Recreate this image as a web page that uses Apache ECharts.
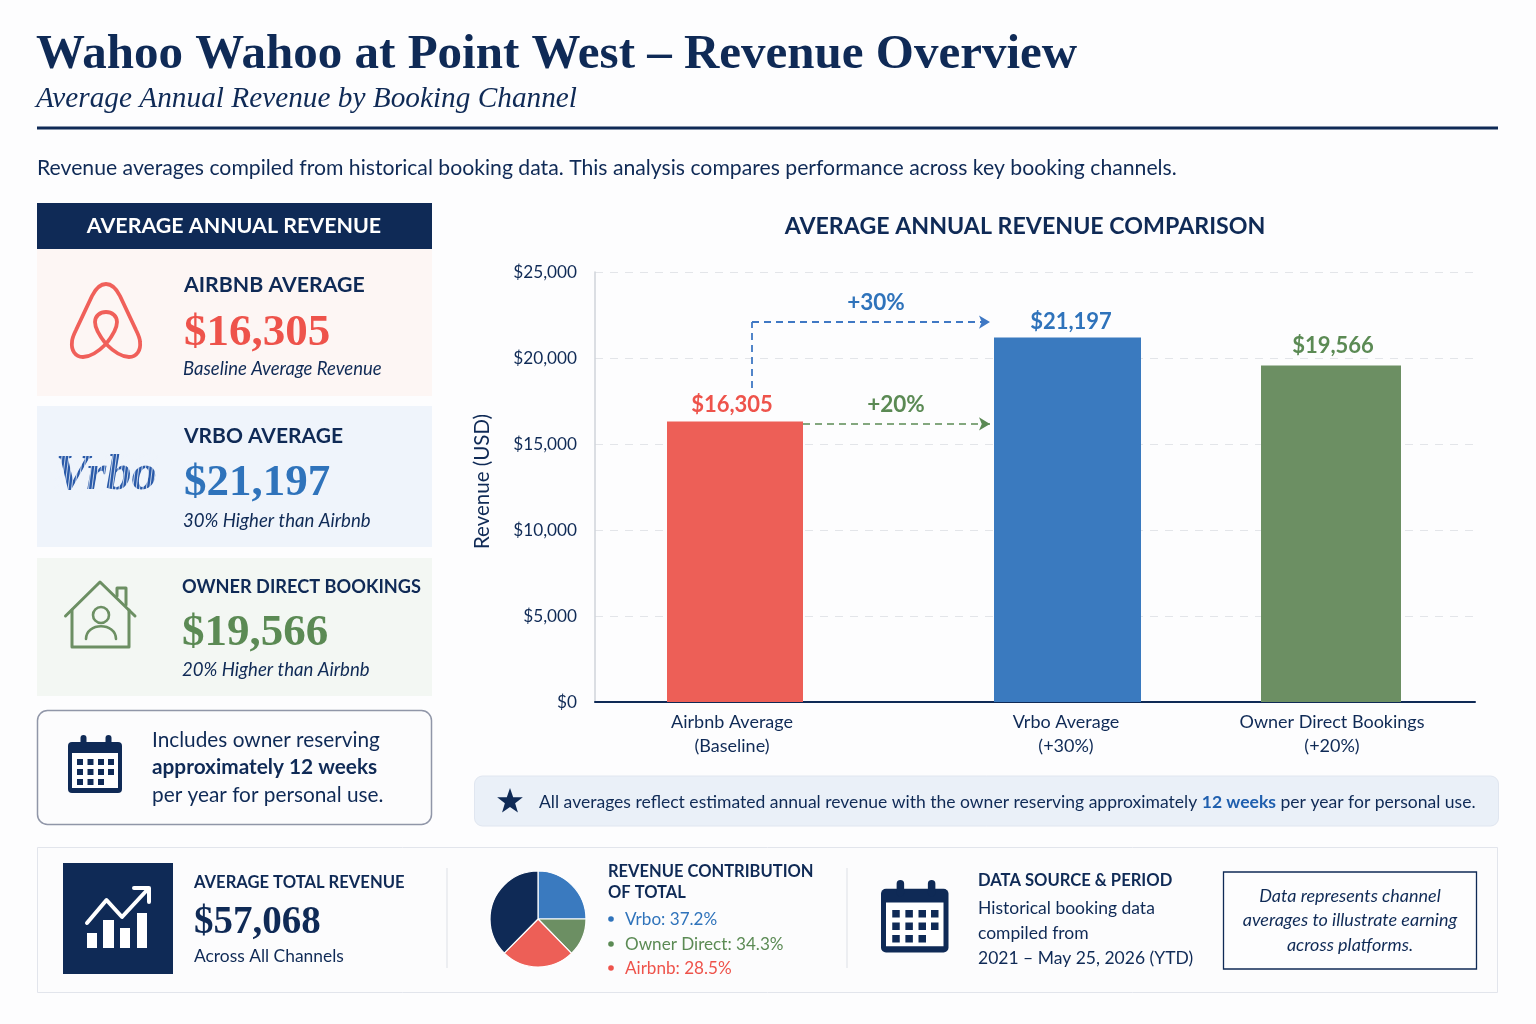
<!DOCTYPE html>
<html><head><meta charset="utf-8">
<style>html,body{margin:0;padding:0;background:#fdfdfe}#c{width:1536px;height:1024px}</style>
<script src="https://cdn.jsdelivr.net/npm/echarts@6/dist/echarts.min.js"></script>
</head><body><div id="c"></div>
<script>
const channels = ['Airbnb Average', 'Vrbo Average', 'Owner Direct Bookings'];
const channelNotes = ['(Baseline)', '(+30%)', '(+20%)'];
const revenue = [16305, 21197, 19566];
const yTicks = [0, 5000, 10000, 15000, 20000, 25000];
const pieNames = ['Vrbo', 'Owner Direct', 'Airbnb', 'Total share'];
const pieShares = [25, 12.7, 24.7, 37.6];
const contribution = ['Vrbo: 37.2%', 'Owner Direct: 34.3%', 'Airbnb: 28.5%'];

const NAVY = '#0f2a56', RED = '#ed5f57', BLUE = '#3a7abf', GREEN = '#6c8f63';
const TXT_RED = '#ee534b', TXT_BLUE = '#2f73bb', TXT_GREEN = '#5b8a54';
const SANS = 'Lato', SERIF = '"Liberation Serif"';
const barColors = [RED, BLUE, GREEN], labelColors = [TXT_RED, TXT_BLUE, TXT_GREEN];
// layout only: horizontal placement inside a 0..880 plot strip
const barCenters = [140, 472.5, 736], barWidths = [136, 147, 140], labelCenters = [137, 471, 737];
const valueLabelShift = [[-3, 2], [3.5, 3], [2, -1]];

echarts.graphic.registerShape('airbnbLogo', echarts.graphic.extendPath('M106 344C98 352 90 357 83 357C75 357 71 350 72 342C72 338 74 334 76 330L92 296C96 288 100 284 106 284C112 284 116 288 120 296L136 330C138 334 140 338 140 342C141 350 137 357 129 357C122 357 114 352 106 344C98 334 95 327 95 322C95 316 100 312 106 312C112 312 117 316 117 322C117 327 114 334 106 344Z'));
echarts.graphic.registerShape('ownerShoulders', echarts.graphic.extendPath('M86 639C86 622 116 622 116 639'));

const money = v => '$' + v.toLocaleString('en-US');
function T(x, y, text, o) {
  o = o || {};
  return { type: 'text', x, y, silent: true, z: o.z || 5, style: {
    text, fill: o.c || NAVY, align: o.a || 'left', verticalAlign: 'middle',
    font: `${o.i ? 'italic ' : ''}${o.w || 400} ${o.s || 18}px ${o.f || SANS}`, rich: o.rich } };
}
function R(x, y, w, h, fill, o) {
  o = o || {};
  return { type: 'rect', silent: true, z: o.z || 1, shape: { x, y, width: w, height: h, r: o.r || 0 },
    style: { fill, stroke: o.stroke || null, lineWidth: o.lw || 0 } };
}
function L(x1, y1, x2, y2, stroke, lw) {
  return { type: 'line', silent: true, z: 2, shape: { x1, y1, x2, y2 }, style: { stroke, lineWidth: lw || 1 } };
}
function S(type, stroke, lw) {
  return { type, silent: true, z: 3, style: { stroke, lineWidth: lw, fill: 'none', lineJoin: 'round', lineCap: 'round' } };
}
function calendar(x, y, k) {
  const ch = [
    R(0, 7, 54, 51, NAVY, { r: 4, z: 3 }),
    R(4, 18, 46, 35, '#ffffff', { z: 4 }),
    R(12.5, 0, 6, 13, NAVY, { r: 3, z: 5 }), R(37.5, 0, 6, 13, NAVY, { r: 3, z: 5 })
  ];
  const cols = [9, 19.5, 30, 40], rows = [24, 34, 44];
  rows.forEach((ry, i) => cols.forEach((cx, j) => {
    if (i === 2 && j === 3) return;
    ch.push(R(cx, ry, 6, 6, NAVY, { z: 6 }));
  }));
  return { type: 'group', x, y, scaleX: k, scaleY: k, silent: true, children: ch };
}
function vrboLogo() {
  const out = [T(55, 476, 'Vrbo', { f: SERIF, w: 700, i: true, s: 51, c: '#2a5aa9' })];
  for (let i = 0; i < 30; i++) {
    const x = 54 + i * 3.4;
    out.push(Object.assign(L(x + 5, 453, x, 493, '#eff4fb', 0.8), { z: 6 }));
  }
  return out;
}

const starPts = [];
for (let i = 0; i < 10; i++) {
  const r = i % 2 ? 5.4 : 13.5, a = -Math.PI / 2 + i * Math.PI / 5;
  starPts.push([510 + r * Math.cos(a), 801.5 + r * Math.sin(a)]);
}

const graphics = [
  T(36, 55, 'Wahoo Wahoo at Point West – Revenue Overview', { f: SERIF, w: 700, s: 49 }),
  T(36, 99, 'Average Annual Revenue by Booking Channel', { f: SERIF, i: true, s: 29.3 }),
  L(37, 128, 1498, 128, NAVY, 3),
  T(37, 168, 'Revenue averages compiled from historical booking data. This analysis compares performance across key booking channels.', { s: 21.2 }),

  R(37, 203, 395, 46, NAVY),
  T(234, 226.5, 'AVERAGE ANNUAL REVENUE', { c: '#fff', a: 'center', w: 700, s: 21.4 }),
  R(37, 249, 395, 147, '#fdf6f4'),
  R(37, 406, 395, 141, '#eff4fb'),
  R(37, 558, 395, 138, '#f3f7f3'),
  T(184, 285.5, 'AIRBNB AVERAGE', { w: 700, s: 21.3 }),
  T(184, 333.5, money(revenue[0]), { f: SERIF, w: 700, s: 45, c: TXT_RED }),
  T(183, 369.5, 'Baseline Average Revenue', { i: true, s: 18.5 }),
  T(184, 436.5, 'VRBO AVERAGE', { w: 700, s: 21 }),
  T(184, 483.5, money(revenue[1]), { f: SERIF, w: 700, s: 45, c: TXT_BLUE }),
  T(183, 520.5, '30% Higher than Airbnb', { i: true, s: 18.6 }),
  T(182, 587.5, 'OWNER DIRECT BOOKINGS', { w: 700, s: 18.2 }),
  T(182, 633, money(revenue[2]), { f: SERIF, w: 700, s: 45, c: TXT_GREEN }),
  T(182, 669.5, '20% Higher than Airbnb', { i: true, s: 18.6 }),

  S('airbnbLogo', '#f0605a', 3.8),
  ...vrboLogo(),
  Object.assign(S('polyline', GREEN, 3), { shape: { points: [[65.5, 616], [100, 582], [135, 616]] } }),
  Object.assign(S('polyline', GREEN, 3), { shape: { points: [[72, 610], [72, 647], [129, 647], [129, 610]] } }),
  Object.assign(S('polyline', GREEN, 3), { shape: { points: [[117, 596], [117, 588], [126, 588], [126, 605]] } }),
  Object.assign(S('circle', GREEN, 2.6), { shape: { cx: 101, cy: 615, r: 8 } }),
  S('ownerShoulders', GREEN, 2.6),

  R(37.5, 710.5, 394, 114, '#fcfcfd', { r: 10, stroke: '#9096a8', lw: 1.5 }),
  calendar(68, 735, 1),
  T(152, 740, 'Includes owner reserving', { s: 20.8 }),
  T(152, 767, 'approximately 12 weeks', { s: 20.8, w: 700 }),
  T(152, 795, 'per year for personal use.', { s: 20.8 }),

  T(1025, 227, 'AVERAGE ANNUAL REVENUE COMPARISON', { a: 'center', w: 700, s: 23.2 }),
  T(876, 302.5, '+30%', { a: 'center', w: 700, s: 22.5, c: TXT_BLUE }),
  T(896, 404.5, '+20%', { a: 'center', w: 700, s: 22.5, c: TXT_GREEN }),

  R(474.5, 776, 1024, 50, '#eaf0f8', { r: 8, stroke: '#e0e6f0', lw: 1 }),
  { type: 'polygon', silent: true, z: 3, shape: { points: starPts }, style: { fill: NAVY } },
  T(539, 802, '{a|All averages reflect estimated annual revenue with the owner reserving approximately }{b|12 weeks}{a| per year for personal use.}', {
    rich: { a: { font: `400 17.55px ${SANS}`, fill: NAVY }, b: { font: `700 17.55px ${SANS}`, fill: '#1f5fae' } } }),

  R(37.5, 847.5, 1460, 145, '#fcfcfd', { stroke: '#e2e5ec', lw: 1 }),
  L(447, 868, 447, 968, '#dde0e6', 1),
  L(847, 868, 847, 968, '#dde0e6', 1),
  R(63, 863, 110, 111, NAVY, { z: 2 }),
  R(87, 933, 10, 15, '#fff', { z: 3 }), R(103, 920, 11, 28, '#fff', { z: 3 }),
  R(120, 928, 10, 20, '#fff', { z: 3 }), R(137, 913, 10, 35, '#fff', { z: 3 }),
  Object.assign(S('polyline', '#fff', 4), { shape: { points: [[87, 923], [106.5, 900], [122, 917], [148, 889]] } }),
  Object.assign(S('polyline', '#fff', 4), { shape: { points: [[134, 888], [149, 888], [149, 902]] } }),

  T(194, 882.5, 'AVERAGE TOTAL REVENUE', { w: 700, s: 16.6 }),
  T(194, 923, money(57068), { f: SERIF, w: 700, s: 39 }),
  T(194, 956.5, 'Across All Channels', { s: 17.4 }),

  T(608, 871.5, 'REVENUE CONTRIBUTION', { w: 700, s: 16.5 }),
  T(608, 892.5, 'OF TOTAL', { w: 700, s: 16.5 }),
  ...contribution.flatMap((t, i) => {
    const c = [TXT_BLUE, TXT_GREEN, TXT_RED][i], y = [919, 944, 968][i];
    return [{ type: 'circle', silent: true, z: 3, shape: { cx: 611, cy: y, r: 2.8 }, style: { fill: c } }, T(625, y + 0.5, t, { s: 17.1, c })];
  }),

  calendar(881, 880, 1.25),
  T(978, 880.5, 'DATA SOURCE & PERIOD', { w: 700, s: 16.6 }),
  T(978, 908.5, 'Historical booking data', { s: 17.5 }),
  T(978, 933.5, 'compiled from', { s: 17.5 }),
  T(978, 958.5, '2021 – May 25, 2026 (YTD)', { s: 17.5 }),
  R(1223.5, 872, 253, 97, '#fdfdfe', { stroke: NAVY, lw: 1.3 }),
  T(1350, 896, 'Data represents channel', { a: 'center', i: true, s: 18 }),
  T(1350, 920, 'averages to illustrate earning', { a: 'center', i: true, s: 18 }),
  T(1350, 945, 'across platforms.', { a: 'center', i: true, s: 18 })
];

const hiddenAxes = channels.map(() => ({ type: 'value', min: 0, max: 880, show: false, gridIndex: 0 }));
const option = {
  animation: false,
  backgroundColor: '#fdfdfe',
  tooltip: { show: false },
  grid: { left: 595, top: 272, width: 880, height: 430, containLabel: false },
  xAxis: [{
    type: 'value', min: 0, max: 880, gridIndex: 0,
    axisLine: { show: true, onZero: false, lineStyle: { color: NAVY, width: 2 } },
    axisTick: { show: false }, splitLine: { show: false },
    axisLabel: {
      customValues: labelCenters, margin: 8, color: NAVY, fontFamily: SANS, fontSize: 18, lineHeight: 24,
      formatter: v => { const i = labelCenters.indexOf(v); return i < 0 ? '' : channels[i] + '\n' + channelNotes[i]; }
    }
  }, ...hiddenAxes],
  yAxis: {
    type: 'value', min: 0, max: 25000, interval: 5000,
    name: 'Revenue (USD)', nameLocation: 'middle', nameGap: 102, nameRotate: 90,
    nameTextStyle: { color: NAVY, fontFamily: SANS, fontSize: 20.5, padding: [0, 0, 0, 11] },
    axisLine: { show: true, lineStyle: { color: '#cfd3da', width: 1.5 } },
    axisTick: { show: false },
    axisLabel: { customValues: yTicks, color: NAVY, fontFamily: SANS, fontSize: 17.2, margin: 18, formatter: v => money(v) },
    splitLine: { show: true, lineStyle: { color: '#e3e5e9', type: [8, 7], width: 1.2 } }
  },
  series: [
    ...channels.map((name, i) => ({
      name, type: 'bar', xAxisIndex: i + 1, barWidth: barWidths[i],
      data: [[barCenters[i], revenue[i]]],
      itemStyle: { color: barColors[i] },
      label: { show: true, position: 'top', distance: 8, offset: valueLabelShift[i],
        formatter: p => money(p.value[1]), color: labelColors[i], fontFamily: SANS, fontWeight: 700, fontSize: 22 }
    })),
    {
      type: 'pie', center: [538, 919], radius: [0, 48], startAngle: 90, clockwise: true,
      label: { show: false }, labelLine: { show: false }, silent: true,
      itemStyle: { borderColor: '#ffffff', borderWidth: 1.2 },
      data: pieNames.map((name, i) => ({ name, value: pieShares[i], itemStyle: { color: [BLUE, GREEN, RED, NAVY][i] } }))
    },
    {
      type: 'line', xAxisIndex: 1, data: [], silent: true,
      markLine: {
        silent: true, animation: false, label: { show: false }, symbol: ['none', 'none'], precision: 0,
        data: [
          [{ coord: [157, 18250], lineStyle: { color: '#3f78c4', type: [7, 5], width: 1.8 }, symbol: 'none' }, { coord: [157, 22090], symbol: 'none' }],
          [{ coord: [157, 22090], lineStyle: { color: '#3f78c4', type: [7, 5], width: 1.8 }, symbol: 'none' }, { coord: [395, 22090], symbol: 'arrow', symbolSize: [10, 11] }],
          [{ coord: [208, 16170], lineStyle: { color: '#5b8a54', type: [7, 5], width: 1.6 }, symbol: 'none' }, { coord: [395, 16170], symbol: 'arrow', symbolSize: [10, 11] }]
        ]
      }
    }
  ],
  graphic: { elements: graphics }
};
const chart = echarts.init(document.getElementById('c'), null, { renderer: 'canvas', width: 1536, height: 1024 });
chart.setOption(option);
</script></body></html>
